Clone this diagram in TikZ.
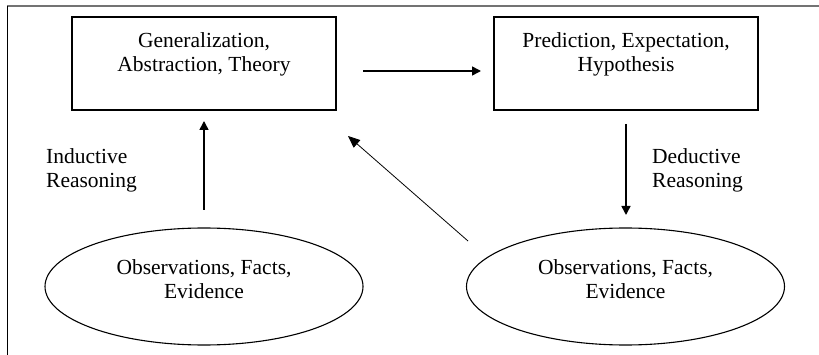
\documentclass[tikz,border=0pt]{standalone}
\usepackage{fontspec}
\setmainfont{Liberation Serif}
\usetikzlibrary{arrows.meta,shapes.geometric}
\begin{document}
\begin{tikzpicture}[x=1pt,y=-1pt,
  txt/.style={font=\fontsize{21.5}{24}\selectfont, align=center, inner sep=0pt},
  boxn/.style={draw, line width=1.1pt, minimum width=264pt, minimum height=93pt},
  ell/.style={ellipse, draw, line width=1.1pt, minimum width=318pt, minimum height=117pt, inner sep=0pt},
  arr/.style={line width=1.6pt, -{Triangle[length=9pt,width=9pt]}},
  thinarr/.style={line width=0.8pt, -{Triangle[length=12pt,width=10pt]}}]
\useasboundingbox (0,0) rectangle (819,355);
\draw[gray!90!black, line width=2pt] (7,6.5) -- (819,6.5);
\draw[line width=1pt] (7,6) -- (7,355);
% boxes
\node[boxn] (g) at (204,63.5) {};
\node[txt, anchor=north] (gt) at (204,32) {Generalization,\\Abstraction, Theory};
\node[boxn] (p) at (626,63.5) {};
\node[txt, anchor=north] (pt) at (626,32) {Prediction, Expectation,\\Hypothesis};
% ellipses
\node[ell] (o1) at (204,286.5) {};
\node[txt] (o1t) at (204,279) {Observations, Facts,\\Evidence};
\node[ell] (o2) at (625.5,286.5) {};
\node[txt] (o2t) at (625.5,279) {Observations, Facts,\\Evidence};
% labels
\node[txt, align=left, anchor=west] (ind) at (46,170) {Inductive\\Reasoning};
\node[txt, align=left, anchor=west] (ded) at (652,170) {Deductive\\Reasoning};
% connectors
\coordinate (h1) at (363,71);
\coordinate (h2) at (481,71);
\draw[arr] (h1) -- (h2);
\coordinate (i1) at (204,210);
\coordinate (i2) at (204,121);
\draw[arr] (i1) -- (i2);
\coordinate (d1) at (626,124);
\coordinate (d2) at (626,215);
\draw[arr] (d1) -- (d2);
\coordinate (x1) at (468,241);
\coordinate (x2) at (348,136);
\draw[thinarr] (x1) -- (x2);
\end{tikzpicture}
\end{document}
